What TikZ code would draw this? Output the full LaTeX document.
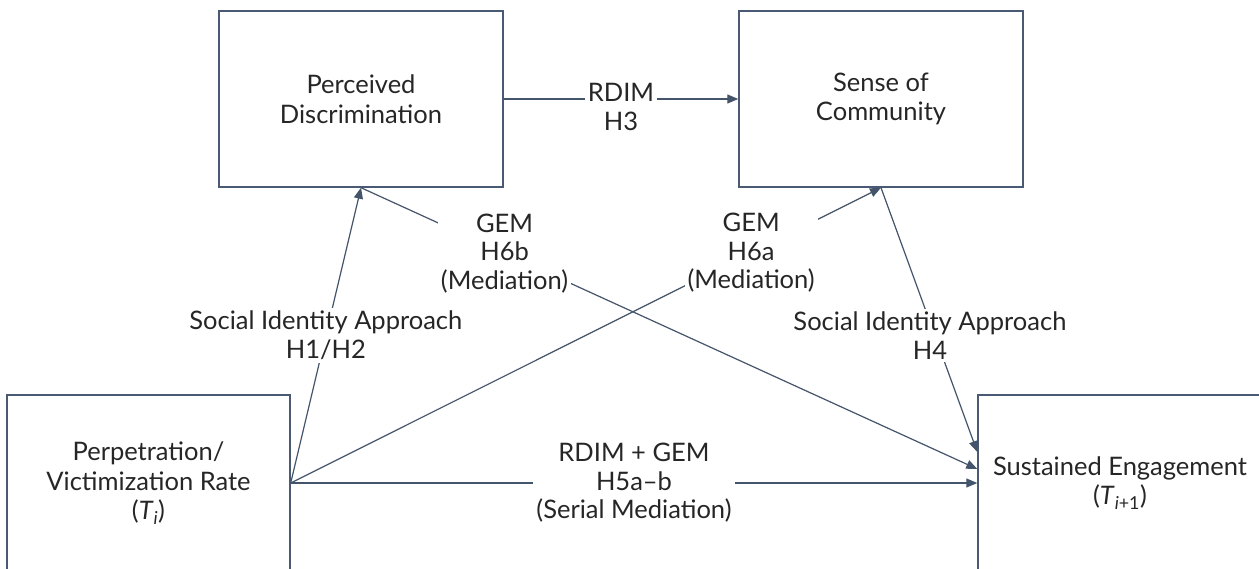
\documentclass[tikz,border=0pt]{standalone}
\usepackage{fontspec}
\setmainfont{Lato}
\usetikzlibrary{arrows.meta}
\definecolor{linec}{HTML}{44546A}
\definecolor{boxc}{HTML}{4A5A75}
\definecolor{txtc}{HTML}{262626}
\tikzset{
  box/.style={draw=boxc, line width=1.4pt, minimum width=284pt, minimum height=176pt, inner sep=0pt, align=center, text=txtc, font=\fontsize{25.5}{29.5}\selectfont},
  conn/.style={draw=linec, line width=1.2pt, -{Triangle[length=11pt,width=9pt]}},
  lbl/.style={fill=white, inner sep=3pt, align=center, text=txtc, font=\fontsize{25.5}{28.5}\selectfont}
}
\begin{document}
\begin{tikzpicture}[x=1pt,y=-1pt]
\useasboundingbox[fill=white] (0,0) rectangle (1259,568);
\node[box] (pd) at (361,99) {Perceived\\Discrimination};
\node[box] (soc) at (881,99) {Sense of\\Community};
\node[box, minimum width=283pt] (pvr) at (148.5,483) {Perpetration/\\Victimization Rate\\(\textit{T}\textsubscript{\textit{i}})};
\node[box] (se) at (1120,483) {Sustained Engagement\\(\textit{T}\textsubscript{\textit{i}+1})};
\draw[conn] (pd.east) -- node[lbl, yshift=-8pt] (l3) {RDIM\\H3} (soc.west);
\draw[conn] (pvr.east) -- node[lbl, pos=0.5] (l12) {Social Identity Approach\\H1/H2} (pd.south);
\draw[conn] (pvr.east) -- node[lbl, pos=0.78] (l6a) {GEM\\H6a\\(Mediation)} (soc.south);
\draw[conn] (pd.south) -- node[lbl, pos=0.233] (l6b) {GEM\\H6b\\(Mediation)} ([yshift=14pt]se.west);
\draw[conn] (soc.south) -- node[lbl, pos=0.56, xshift=-5pt] (l4) {Social Identity Approach\\H4} ([yshift=31pt]se.west);
\draw[conn] (pvr.east) -- node[lbl] (l5) {RDIM + GEM\\H5a--b\\(Serial Mediation)} (se.west);
\end{tikzpicture}
\end{document}
